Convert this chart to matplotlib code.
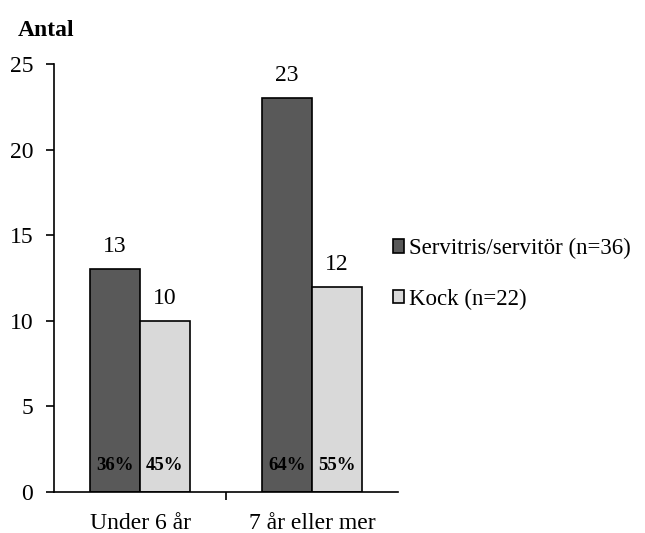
import matplotlib
matplotlib.use('Agg')
import matplotlib.pyplot as plt
import numpy as np

categories = ['Under 6 år', '7 år eller mer']
servitris = [13, 23]
kock = [10, 12]
servitris_pct = ['36%', '64%']
kock_pct = ['45%', '55%']
series_names = ['Servitris/servitör (n=36)', 'Kock (n=22)']

plt.rcParams['font.family'] = ['Liberation Serif', 'DejaVu Serif']

fig = plt.figure(figsize=(6.45, 5.33), dpi=100)
ax = fig.add_axes([54/645, 1-492/533, 344/645, 428/533])

x = np.arange(len(categories))
w = 50/172
b1 = ax.bar(x - w/2, servitris, w, color='#595959', edgecolor='black', linewidth=1.2, label=series_names[0])
b2 = ax.bar(x + w/2, kock, w, color='#d9d9d9', edgecolor='black', linewidth=1.2, label=series_names[1])

for bars, vals, pcts in [(b1, servitris, servitris_pct), (b2, kock, kock_pct)]:
    for r, v, p in zip(bars, vals, pcts):
        cx = r.get_x() + r.get_width()/2
        ax.text(cx, v + 0.7, str(v), ha='center', va='bottom', fontsize=17)
        ax.text(cx, 1.55, p, ha='center', va='center', fontsize=13.5, fontweight='bold')

ax.set_xlim(-0.5, 1.5)
ax.set_ylim(0, 25)
ax.set_yticks([0, 5, 10, 15, 20, 25])
ax.tick_params(axis='y', direction='out', length=6, width=1.2, labelsize=17, pad=9)
ax.set_xticks(x)
ax.set_xticklabels(categories, fontsize=17)
ax.set_xticks([0.5], minor=True)
ax.tick_params(axis='x', which='major', length=0, pad=15)
ax.tick_params(axis='x', which='minor', direction='out', length=6, width=1.2)
for s in ['top', 'right']:
    ax.spines[s].set_visible(False)
for s in ['left', 'bottom']:
    ax.spines[s].set_linewidth(1.2)

fig.text(18/645, 1-30/533, 'Antal', fontsize=17, fontweight='bold', va='center', ha='left')

fig.legend(loc='center left', bbox_to_anchor=(372/645, 1-274/533), frameon=False,
           fontsize=16.5, handlelength=0.5, handleheight=0.5, handletextpad=0.2,
           labelspacing=1.3)

fig.savefig('out.png', dpi=100)
